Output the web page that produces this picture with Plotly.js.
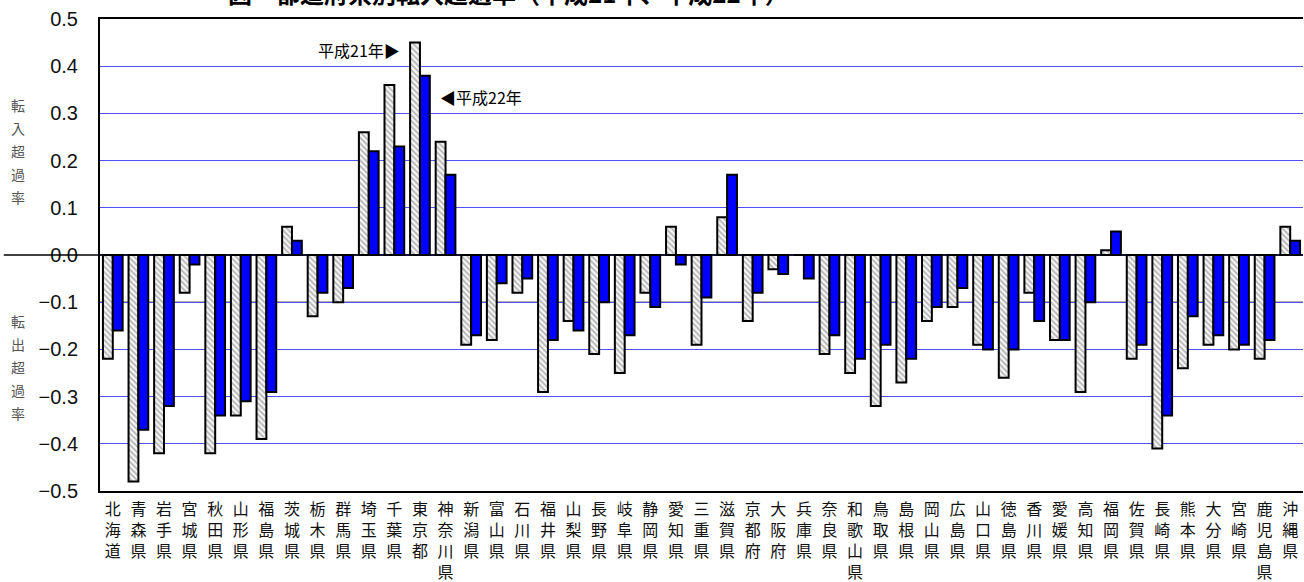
<!DOCTYPE html>
<html>
<head>
<meta charset="utf-8">
<script src="https://cdn.plot.ly/plotly-3.0.1.min.js"></script>
<style>html,body{margin:0;padding:0;background:#fff;}#chart{width:1304px;height:582px;}</style>
</head>
<body>
<div id="chart"></div>
<script>
const prefectures = ["北海道","青森県","岩手県","宮城県","秋田県","山形県","福島県","茨城県","栃木県","群馬県","埼玉県","千葉県","東京都","神奈川県","新潟県","富山県","石川県","福井県","山梨県","長野県","岐阜県","静岡県","愛知県","三重県","滋賀県","京都府","大阪府","兵庫県","奈良県","和歌山県","鳥取県","島根県","岡山県","広島県","山口県","徳島県","香川県","愛媛県","高知県","福岡県","佐賀県","長崎県","熊本県","大分県","宮崎県","鹿児島県","沖縄県"];
const h21 = [-0.22,-0.48,-0.42,-0.08,-0.42,-0.34,-0.39,0.06,-0.13,-0.10,0.26,0.36,0.45,0.24,-0.19,-0.18,-0.08,-0.29,-0.14,-0.21,-0.25,-0.08,0.06,-0.19,0.08,-0.14,-0.03,0.00,-0.21,-0.25,-0.32,-0.27,-0.14,-0.11,-0.19,-0.26,-0.08,-0.18,-0.29,0.01,-0.22,-0.41,-0.24,-0.19,-0.20,-0.22,0.06];
const h22 = [-0.16,-0.37,-0.32,-0.02,-0.34,-0.31,-0.29,0.03,-0.08,-0.07,0.22,0.23,0.38,0.17,-0.17,-0.06,-0.05,-0.18,-0.16,-0.10,-0.17,-0.11,-0.02,-0.09,0.17,-0.08,-0.04,-0.05,-0.17,-0.22,-0.19,-0.22,-0.11,-0.07,-0.20,-0.20,-0.14,-0.18,-0.10,0.05,-0.19,-0.34,-0.13,-0.17,-0.19,-0.18,0.03];
const seriesNames = ["平成21年","平成22年"];
const yTicks = [-0.5,-0.4,-0.3,-0.2,-0.1,0,0.1,0.2,0.3,0.4,0.5];
const inLabel = "転入超過率";
const outLabel = "転出超過率";
const titleText = "図　都道府県別転入超過率（平成21年、平成22年）";

const vert = s => s.split('').join('<br>');
const cjk = '"Noto Sans CJK JP", "Noto Sans", sans-serif';

const traces = [
  {type:'bar', name:seriesNames[0], x:prefectures, y:h21,
   marker:{color:'#f2f2f2', line:{color:'#000', width:2},
           pattern:{shape:'\\', fgcolor:'#b4b4b4', bgcolor:'#f6f6f6', size:4, solidity:0.45}},
   hoverinfo:'x+y'},
  {type:'bar', name:seriesNames[1], x:prefectures, y:h22,
   marker:{color:'#0000ff', line:{color:'#000', width:2}}, hoverinfo:'x+y'}
];

const sideAnn = [];
function addVertical(label, yCenter) {
  const chars = label.split('');
  const step = 0.0487;
  chars.forEach((ch, i) => {
    sideAnn.push({xref:'paper', yref:'y', x:-0.068, y:yCenter + ((chars.length - 1) / 2 - i) * step,
      xanchor:'center', yanchor:'middle', showarrow:false, text:ch,
      font:{family:cjk, size:14, color:'#555'}});
  });
}
addVertical(inLabel, 0.22);
addVertical(outLabel, -0.237);

const layout = {
  width:1304, height:582,
  margin:{l:100, r:1, t:19, b:91},
  paper_bgcolor:'#fff', plot_bgcolor:'#fff',
  showlegend:false,
  barmode:'group', bargap:0.23, bargroupgap:0,
  xaxis:{
    type:'category', tickmode:'array', tickvals:prefectures, ticktext:prefectures.map(vert),
    tickfont:{family:cjk, size:16, color:'#111'}, ticks:'', showgrid:false,
    showline:true, linecolor:'#000', linewidth:2, mirror:true, zeroline:false, ticklabelstandoff:3
  },
  yaxis:{
    range:[-0.5,0.5], tickmode:'array', tickvals:yTicks, tickformat:'.1f',
    tickfont:{family:'"Liberation Sans", Arial, sans-serif', size:20, color:'#111'},
    showgrid:true, gridcolor:'#5050ff', gridwidth:1.2,
    zeroline:false, showline:true, linecolor:'#000', linewidth:2, ticks:'', ticklabelstandoff:16
  },
  shapes:[
    {type:'line', xref:'paper', yref:'y', x0:0, x1:1, y0:-0.1, y1:-0.1, line:{color:'#000', width:1}, layer:'below'},
    {type:'line', xref:'paper', yref:'y', x0:-0.08, x1:1, y0:0, y1:0, line:{color:'#000', width:1.5}, layer:'above'}
  ],
  annotations:[
    {xref:'x', yref:'y', x:11.3, y:0.435, xanchor:'right', yanchor:'middle', showarrow:false,
     text:seriesNames[0]+'▶', font:{family:cjk, size:16, color:'#000'}},
    {xref:'x', yref:'y', x:12.7, y:0.335, xanchor:'left', yanchor:'middle', showarrow:false,
     text:'◀'+seriesNames[1], font:{family:cjk, size:16, color:'#000'}},
    {xref:'paper', yref:'paper', x:0.105, y:1.056, xanchor:'left', yanchor:'middle', showarrow:false,
     text:'<b>'+titleText+'</b>', font:{family:cjk, size:24, color:'#000'}}
  ].concat(sideAnn)
};

Plotly.newPlot('chart', traces, layout, {displayModeBar:false, staticPlot:true});
</script>
</body>
</html>
